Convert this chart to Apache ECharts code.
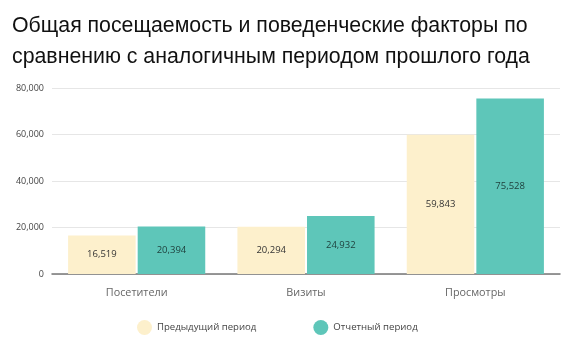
<!DOCTYPE html>
<html><head><meta charset="utf-8">
<script src="https://cdn.jsdelivr.net/npm/echarts@6/dist/echarts.min.js"></script>
<style>html,body{margin:0;padding:0;background:#fff}#c{width:570px;height:340px}</style>
</head><body><div id="c"></div>
<script>
const titleText = 'Общая посещаемость и поведенческие факторы по\nсравнению с аналогичным периодом прошлого года';
const categories = ['Посетители', 'Визиты', 'Просмотры'];
const seriesNames = ['Предыдущий период', 'Отчетный период'];
const prevValues = [16519, 20294, 59843];
const currValues = [20394, 24932, 75528];
const yTicks = [0, 20000, 40000, 60000, 80000];

const chart = echarts.init(document.getElementById('c'), null, {renderer: 'canvas'});
const lblFont = '"Open Sans", "Noto Sans", sans-serif';
chart.setOption({
  animation: false,
  title: {
    text: titleText, left: 7, top: 6,
    textStyle: {fontFamily: '"Liberation Sans", Arial, sans-serif', fontSize: 21.3, fontWeight: 'normal', color: '#111', lineHeight: 31}
  },
  legend: {
    top: 315, left: 132, itemGap: 57, icon: 'circle', itemWidth: 15, itemHeight: 15,
    textStyle: {fontFamily: lblFont, fontSize: 9.6, color: '#444'},
    data: seriesNames
  },
  grid: {left: 52, right: 10, top: 88, bottom: 66},
  xAxis: {
    type: 'category', data: categories,
    axisLine: {lineStyle: {color: '#777', width: 1.5}},
    axisTick: {alignWithLabel: true, length: 4, lineStyle: {color: '#777'}},
    axisLabel: {fontFamily: lblFont, fontSize: 10.8, color: '#666', margin: 13}
  },
  yAxis: {
    type: 'value', min: yTicks[0], max: yTicks[yTicks.length - 1], interval: 20000,
    axisLine: {show: false}, axisTick: {show: false},
    splitLine: {lineStyle: {color: '#e6e6e6'}},
    axisLabel: {fontFamily: lblFont, fontSize: 9, color: '#444', margin: 8,
      formatter: v => v.toLocaleString('en-US')}
  },
  series: [
    {name: seriesNames[0], type: 'bar', data: prevValues, barGap: '3%', barCategoryGap: '19%',
     itemStyle: {color: '#fdf0cc'},
     label: {show: true, position: 'inside', fontFamily: lblFont, fontSize: 9.5, color: '#333',
       formatter: p => p.value.toLocaleString('en-US')}},
    {name: seriesNames[1], type: 'bar', data: currValues,
     itemStyle: {color: '#5ec6b9'},
     label: {show: true, position: 'inside', fontFamily: lblFont, fontSize: 9.5, color: '#1d3d3a',
       formatter: p => p.value.toLocaleString('en-US')}}
  ]
});
</script></body></html>
